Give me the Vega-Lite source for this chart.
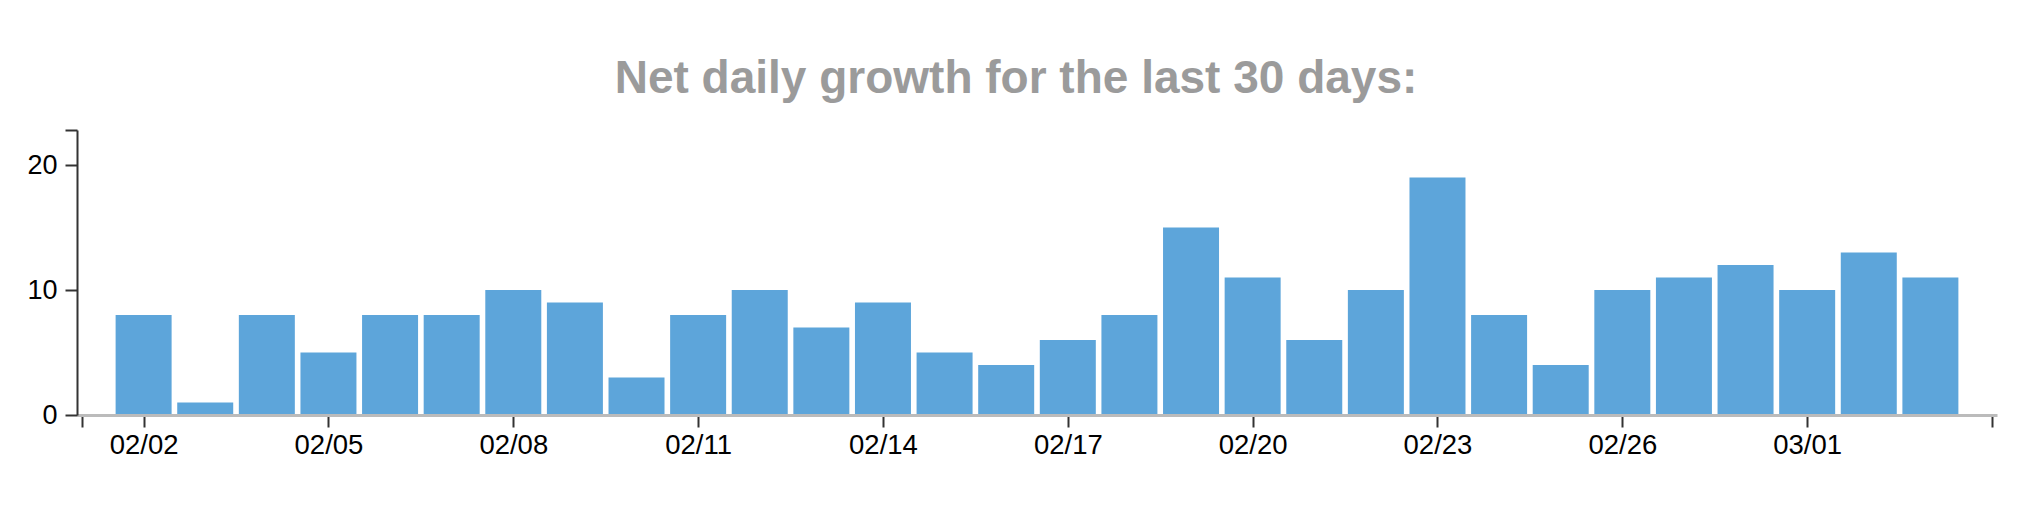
{
  "$schema": "https://vega.github.io/schema/vega-lite/v6.json",
  "width": 1920,
  "height": 285,
  "autosize": "none",
  "padding": {"left": 77, "top": 130, "right": 29, "bottom": 107},
  "background": "white",
  "title": {
    "text": "Net daily growth for the last 30 days:",
    "font": "Liberation Sans",
    "fontSize": 46,
    "fontWeight": "bold",
    "color": "#9b9b9b",
    "anchor": "middle",
    "frame": "group",
    "baseline": "alphabetic",
    "dx": -21,
    "offset": -23
  },
  "data": {
    "values": [
      {"date": "2017-02-02", "growth": 8},
      {"date": "2017-02-03", "growth": 1},
      {"date": "2017-02-04", "growth": 8},
      {"date": "2017-02-05", "growth": 5},
      {"date": "2017-02-06", "growth": 8},
      {"date": "2017-02-07", "growth": 8},
      {"date": "2017-02-08", "growth": 10},
      {"date": "2017-02-09", "growth": 9},
      {"date": "2017-02-10", "growth": 3},
      {"date": "2017-02-11", "growth": 8},
      {"date": "2017-02-12", "growth": 10},
      {"date": "2017-02-13", "growth": 7},
      {"date": "2017-02-14", "growth": 9},
      {"date": "2017-02-15", "growth": 5},
      {"date": "2017-02-16", "growth": 4},
      {"date": "2017-02-17", "growth": 6},
      {"date": "2017-02-18", "growth": 8},
      {"date": "2017-02-19", "growth": 15},
      {"date": "2017-02-20", "growth": 11},
      {"date": "2017-02-21", "growth": 6},
      {"date": "2017-02-22", "growth": 10},
      {"date": "2017-02-23", "growth": 19},
      {"date": "2017-02-24", "growth": 8},
      {"date": "2017-02-25", "growth": 4},
      {"date": "2017-02-26", "growth": 10},
      {"date": "2017-02-27", "growth": 11},
      {"date": "2017-02-28", "growth": 12},
      {"date": "2017-03-01", "growth": 10},
      {"date": "2017-03-02", "growth": 13},
      {"date": "2017-03-03", "growth": 11}
    ]
  },
  "mark": {"type": "bar", "width": 56, "color": "#5DA5DA"},
  "encoding": {
    "x": {
      "field": "date",
      "type": "temporal",
      "title": null,
      "scale": {
        "type": "utc",
        "domain": [
          {"year": 2017, "month": 2, "date": 1, "utc": true},
          {"year": 2017, "month": 3, "date": 4, "utc": true}
        ]
      },
      "axis": {
        "values": [
          {"year": 2017, "month": 2, "date": 1, "utc": true},
          {"year": 2017, "month": 2, "date": 2, "utc": true},
          {"year": 2017, "month": 2, "date": 5, "utc": true},
          {"year": 2017, "month": 2, "date": 8, "utc": true},
          {"year": 2017, "month": 2, "date": 11, "utc": true},
          {"year": 2017, "month": 2, "date": 14, "utc": true},
          {"year": 2017, "month": 2, "date": 17, "utc": true},
          {"year": 2017, "month": 2, "date": 20, "utc": true},
          {"year": 2017, "month": 2, "date": 23, "utc": true},
          {"year": 2017, "month": 2, "date": 26, "utc": true},
          {"year": 2017, "month": 3, "date": 1, "utc": true},
          {"year": 2017, "month": 3, "date": 4, "utc": true}
        ],
        "labelExpr": "utcFormat(datum.value, '%m/%d') == '02/01' || utcFormat(datum.value, '%m/%d') == '03/04' ? '' : utcFormat(datum.value, '%m/%d')",
        "labelFont": "Liberation Sans",
        "labelFontSize": 27.5,
        "labelColor": "#000",
        "labelPadding": 4,
        "labelAngle": 0,
        "labelOverlap": false,
        "labelFlush": false,
        "grid": false,
        "domainColor": "#bbbbbb",
        "domainWidth": 3,
        "tickColor": "#333333",
        "tickWidth": 2,
        "tickSize": 12,
        "zindex": 1
      }
    },
    "y": {
      "field": "growth",
      "type": "quantitative",
      "title": null,
      "scale": {"domain": [0, 22.8], "nice": false, "zero": true},
      "axis": {
        "values": [0, 10, 20, 22.8],
        "labelExpr": "datum.value > 21 ? '' : datum.label",
        "labelFont": "Liberation Sans",
        "labelFontSize": 27,
        "labelColor": "#000",
        "labelPadding": 8,
        "labelOverlap": false,
        "labelFlush": false,
        "grid": false,
        "domainColor": "#333333",
        "domainWidth": 2,
        "tickColor": "#333333",
        "tickWidth": 2,
        "tickSize": 12,
        "zindex": 1
      }
    }
  },
  "config": {"view": {"stroke": null}}
}
